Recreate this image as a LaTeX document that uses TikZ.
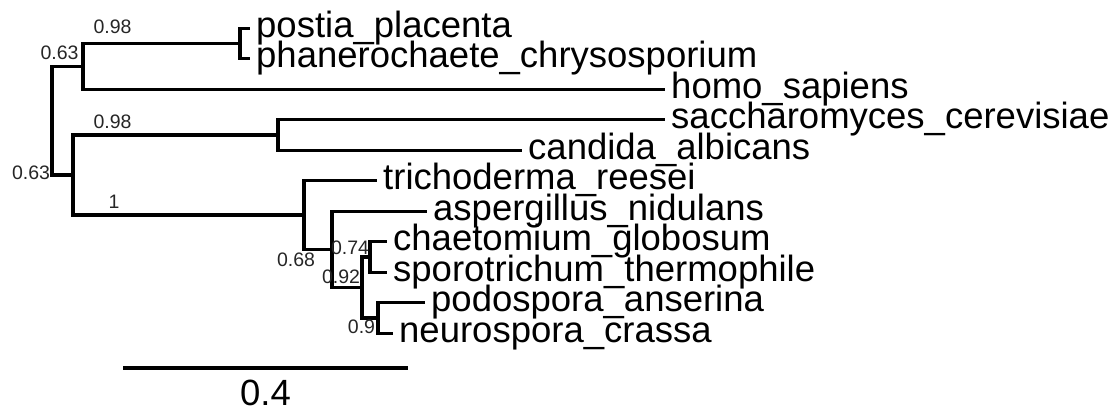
\documentclass[tikz,border=0pt]{standalone}
\usepackage{fontspec}
\setmainfont{Liberation Sans}
\usetikzlibrary{positioning,calc}
\newcommand\tipfont{\fontsize{36.5}{40}\selectfont}
\newcommand\bootfont{\fontsize{19.5}{22}\selectfont}
\tikzset{
    edge/.style={draw, line width=3.2pt, line cap=butt, line join=miter},
    tiplabel/.style={
        anchor=base west, inner sep=0pt, xshift=6pt, yshift=-9pt,
        font=\tipfont
    },
    bootlabel/.style={inner sep=0pt, font=\bootfont, text=black!85}
}
\begin{document}
\begin{tikzpicture}[x=1pt, y=-1pt]
\useasboundingbox (0,0) rectangle (1119,411);

%% tips, spacing 30.5
\coordinate (t0)  at (250, 28.3);
\coordinate (t1)  at (250, 58.8);
\coordinate (t2)  at (665, 89.3);
\coordinate (t3)  at (665,119.8);
\coordinate (t4)  at (522,150.3);
\coordinate (t5)  at (377,180.8);
\coordinate (t6)  at (427,211.3);
\coordinate (t7)  at (387,241.8);
\coordinate (t8)  at (387,272.3);
\coordinate (t9)  at (425,302.8);
\coordinate (t10) at (393,333.3);

%% internal nodes, y = mid of children
\coordinate (nPP)   at (240, 43.55);
\coordinate (nA)    at ( 83, 66.4);
\coordinate (nC)    at (278,135.05);
\coordinate (nG)    at (370,257.05);
\coordinate (nH)    at (378,318.05);
\coordinate (nF)    at (362,287.55);
\coordinate (nE)    at (332,249.4);
\coordinate (nD)    at (304,215.1);
\coordinate (nB)    at ( 73,175.1);
\coordinate (nroot) at ( 52,120.75);

%% branches
\foreach \p/\c in {nroot/nA, nroot/nB, nA/nPP, nA/t2, nPP/t0, nPP/t1,
                   nB/nC, nB/nD, nC/t3, nC/t4, nD/t5, nD/nE, nE/t6, nE/nF,
                   nF/nG, nF/nH, nG/t7, nG/t8, nH/t9, nH/t10}
    \draw[edge] (\p) |- (\c);

%% tip labels
\node[tiplabel] (lbpostia)  at (t0)  {postia\_placenta};
\node[tiplabel] (lbphanero) at (t1)  {phanerochaete\_chrysosporium};
\node[tiplabel] (lbhomo)    at (t2)  {homo\_sapiens};
\node[tiplabel] (lbsacch)   at (t3)  {saccharomyces\_cerevisiae};
\node[tiplabel] (lbcandida) at (t4)  {candida\_albicans};
\node[tiplabel] (lbtricho)  at (t5)  {trichoderma\_reesei};
\node[tiplabel] (lbasper)   at (t6)  {aspergillus\_nidulans};
\node[tiplabel] (lbchaet)   at (t7)  {chaetomium\_globosum};
\node[tiplabel] (lbsporo)   at (t8)  {sporotrichum\_thermophile};
\node[tiplabel] (lbpodo)    at (t9)  {podospora\_anserina};
\node[tiplabel] (lbneuro)   at (t10) {neurospora\_crassa};

%% support values
\node[bootlabel] (bsroot) at ( 31,173) {0.63};
\node[bootlabel] (bsA)    at (59.5,53) {0.63};
\node[bootlabel] (bsPP)   at (112.5,27) {0.98};
\node[bootlabel] (bsC)    at (112.5,122) {0.98};
\node[bootlabel] (bsD)    at (114,202) {1};
\node[bootlabel] (bsE)    at (296,260) {0.68};
\node[bootlabel] (bsG)    at (350,248) {0.74};
\node[bootlabel] (bsF)    at (341,277) {0.92};
\node[bootlabel] (bsH)    at (361.5,327) {0.9};

%% scale bar
\coordinate (sbL) at (123,368);
\coordinate (sbR) at (408,368);
\draw[edge, line width=3.6pt] (sbL) -- (sbR);
\node[inner sep=0pt, anchor=base, font=\tipfont] (sblabel) at ($(sbL)!0.5!(sbR)+(0,38)$) {0.4};

\end{tikzpicture}
\end{document}
